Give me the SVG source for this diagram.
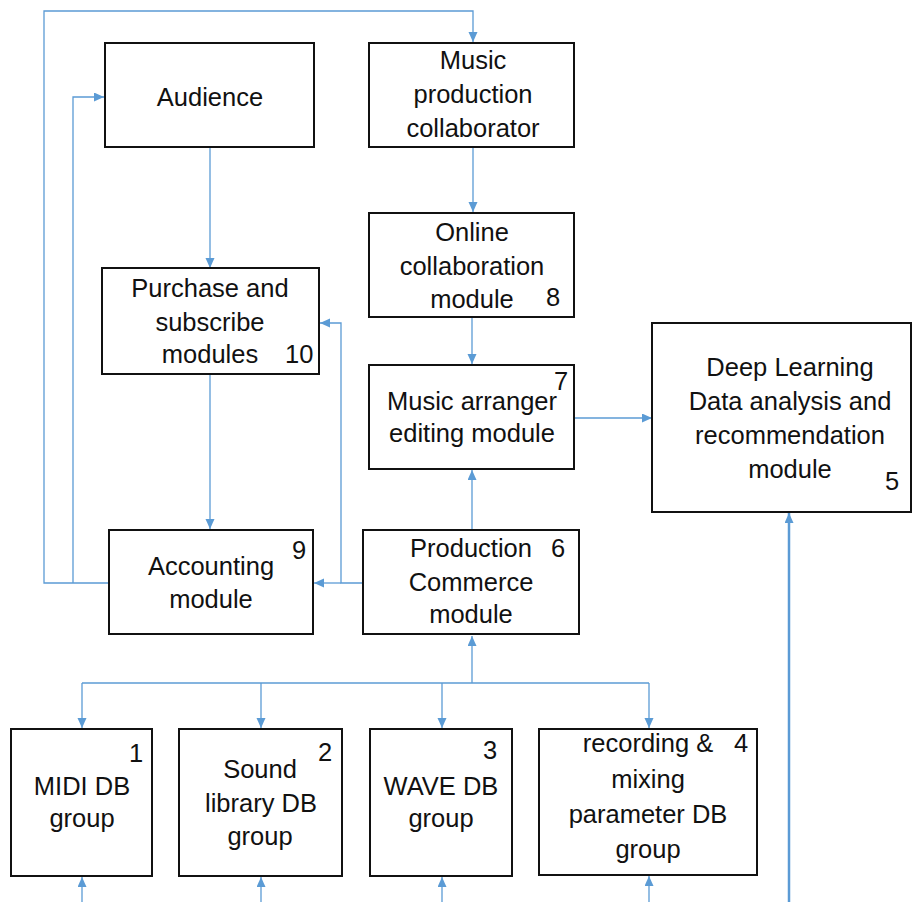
<svg xmlns="http://www.w3.org/2000/svg" width="913" height="902" viewBox="0 0 913 902">
  <style>
    .box { fill: #ffffff; stroke: #111111; stroke-width: 2; }
    .lbl { font-family: "Liberation Sans", Arial, sans-serif; font-size: 25.5px; fill: #111111; text-anchor: middle; }
    .num { font-family: "Liberation Sans", Arial, sans-serif; font-size: 25.5px; fill: #111111; text-anchor: start; }
    .wire { fill: none; stroke: #5B9BD5; stroke-width: 1.3; }
    .wire-thick { fill: none; stroke: #5B9BD5; stroke-width: 2.5; }
  </style>
  <defs>
    <marker id="arrow" markerUnits="userSpaceOnUse" markerWidth="11" markerHeight="10" refX="10" refY="4.5" orient="auto">
      <path d="M0,0 L10,4.5 L0,9 z" fill="#5B9BD5"/>
    </marker>
  </defs>
  <rect width="913" height="902" fill="#ffffff"/>

  <!-- connectors -->
  <g id="connectors">
    <!-- accounting feedback loops -->
    <path class="wire" d="M109,583 H44 V11 H473 V42" marker-end="url(#arrow)"/>
    <path class="wire" d="M73,583 V97 H104" marker-end="url(#arrow)"/>
    <!-- audience to purchase, purchase to accounting -->
    <path class="wire" d="M210,148 V268" marker-end="url(#arrow)"/>
    <path class="wire" d="M210,375 V529" marker-end="url(#arrow)"/>
    <!-- production commerce to purchase and accounting -->
    <path class="wire" d="M363,583 H341 V323 H320" marker-end="url(#arrow)"/>
    <path class="wire" d="M341,583 H314" marker-end="url(#arrow)"/>
    <!-- collaborator chain -->
    <path class="wire" d="M473,148 V212" marker-end="url(#arrow)"/>
    <path class="wire" d="M472,318 V364" marker-end="url(#arrow)"/>
    <path class="wire" d="M472,530 V470" marker-end="url(#arrow)"/>
    <!-- arranger to deep learning -->
    <path class="wire" d="M575,418 H652" marker-end="url(#arrow)"/>
    <!-- DB group bus -->
    <path class="wire" d="M472,683 V636" marker-end="url(#arrow)"/>
    <path class="wire" d="M82,683 H649"/>
    <path class="wire" d="M82,683 V728" marker-end="url(#arrow)"/>
    <path class="wire" d="M261,683 V728" marker-end="url(#arrow)"/>
    <path class="wire" d="M442,683 V728" marker-end="url(#arrow)"/>
    <path class="wire" d="M649,683 V728" marker-end="url(#arrow)"/>
    <!-- inputs from below -->
    <path class="wire" d="M82,902 V877" marker-end="url(#arrow)"/>
    <path class="wire" d="M261,902 V877" marker-end="url(#arrow)"/>
    <path class="wire" d="M442,902 V877" marker-end="url(#arrow)"/>
    <path class="wire" d="M649,902 V876" marker-end="url(#arrow)"/>
    <path class="wire-thick" d="M789,902 V513" marker-end="url(#arrow)"/>
  </g>

  <g id="audience">
    <rect class="box" x="105" y="43" width="209" height="104"/>
    <text class="lbl" x="210" y="106">Audience</text>
  </g>

  <g id="collaborator">
    <rect class="box" x="369" y="43" width="205" height="104"/>
    <text class="lbl" x="473" y="69">Music</text>
    <text class="lbl" x="473" y="103">production</text>
    <text class="lbl" x="473" y="137">collaborator</text>
  </g>

  <g id="online-collaboration">
    <rect class="box" x="369" y="213" width="205" height="104"/>
    <text class="lbl" x="472" y="241">Online</text>
    <text class="lbl" x="472" y="275">collaboration</text>
    <text class="lbl" x="472" y="308">module</text>
    <text class="num" x="546" y="306">8</text>
  </g>

  <g id="purchase">
    <rect class="box" x="102" y="268" width="217" height="106"/>
    <text class="lbl" x="210" y="297">Purchase and</text>
    <text class="lbl" x="210" y="331">subscribe</text>
    <text class="lbl" x="210" y="363">modules</text>
    <text class="num" x="285" y="363">10</text>
  </g>

  <g id="arranger">
    <rect class="box" x="369" y="365" width="205" height="104"/>
    <text class="num" x="554" y="390">7</text>
    <text class="lbl" x="472" y="410">Music arranger</text>
    <text class="lbl" x="472" y="442">editing module</text>
  </g>

  <g id="deep-learning">
    <rect class="box" x="652" y="323" width="259" height="189"/>
    <text class="lbl" x="790" y="376">Deep Learning</text>
    <text class="lbl" x="790" y="410">Data analysis and</text>
    <text class="lbl" x="790" y="444">recommendation</text>
    <text class="lbl" x="790" y="478">module</text>
    <text class="num" x="885" y="490">5</text>
  </g>

  <g id="accounting">
    <rect class="box" x="109" y="530" width="204" height="104"/>
    <text class="lbl" x="211" y="575">Accounting</text>
    <text class="lbl" x="211" y="608">module</text>
    <text class="num" x="292" y="559">9</text>
  </g>

  <g id="production-commerce">
    <rect class="box" x="363" y="530" width="216" height="104"/>
    <text class="lbl" x="471" y="557">Production</text>
    <text class="num" x="551" y="557">6</text>
    <text class="lbl" x="471" y="591">Commerce</text>
    <text class="lbl" x="471" y="623">module</text>
  </g>

  <g id="midi-db">
    <rect class="box" x="11" y="729" width="141" height="147"/>
    <text class="num" x="129" y="762">1</text>
    <text class="lbl" x="82" y="795">MIDI DB</text>
    <text class="lbl" x="82" y="827">group</text>
  </g>

  <g id="sound-library-db">
    <rect class="box" x="179" y="729" width="163" height="147"/>
    <text class="num" x="318" y="761">2</text>
    <text class="lbl" x="260" y="778">Sound</text>
    <text class="lbl" x="261" y="812">library DB</text>
    <text class="lbl" x="260" y="845">group</text>
  </g>

  <g id="wave-db">
    <rect class="box" x="370" y="729" width="142" height="147"/>
    <text class="num" x="483" y="759">3</text>
    <text class="lbl" x="441" y="795">WAVE DB</text>
    <text class="lbl" x="441" y="827">group</text>
  </g>

  <g id="mixing-db">
    <rect class="box" x="539" y="729" width="218" height="146"/>
    <text class="lbl" x="648" y="752">recording &amp;</text>
    <text class="num" x="734" y="752">4</text>
    <text class="lbl" x="648" y="788">mixing</text>
    <text class="lbl" x="648" y="823">parameter DB</text>
    <text class="lbl" x="648" y="858">group</text>
  </g>
</svg>
